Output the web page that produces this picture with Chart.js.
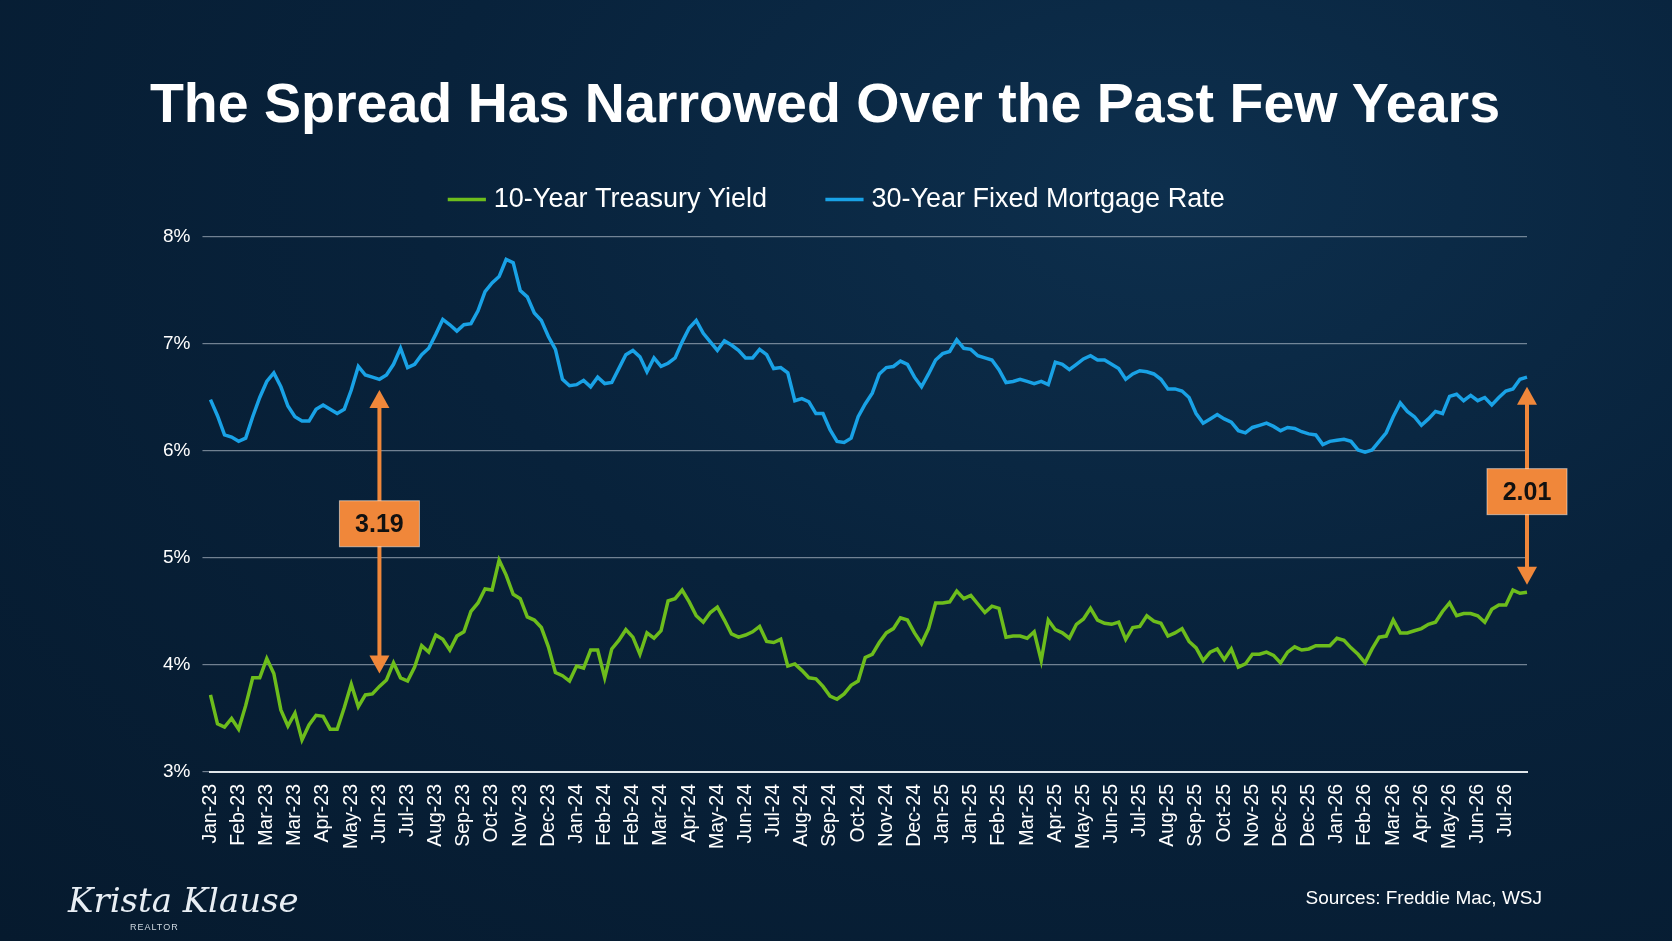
<!DOCTYPE html>
<html><head><meta charset="utf-8">
<script src="https://cdn.jsdelivr.net/npm/chart.js@4"></script>
<style>
html,body{margin:0;padding:0;width:1672px;height:941px;overflow:hidden;background:radial-gradient(ellipse at 70% 20%,#0d2f4d 0%,#08223b 45%,#061a2e 100%);font-family:"Liberation Sans",Arial,sans-serif}
#wrap{position:absolute;left:0;top:0;width:1672px;height:941px}
#title{position:absolute;left:0;width:1650px;top:70px;text-align:center;color:#fff;font-weight:bold;font-size:55.5px;line-height:67px}
#src{position:absolute;right:130px;top:887px;color:#fff;font-size:19px}
#logo{position:absolute;left:68px;top:880px;color:#e8eef4;font-family:"DejaVu Serif",serif;font-style:italic;font-size:34px}
#realtor{position:absolute;left:130px;top:922px;color:#cfd8e0;font-size:9px;letter-spacing:1px}
</style></head><body>
<div id="wrap"><canvas id="c" width="1672" height="941"></canvas></div>
<div id="title">The Spread Has Narrowed Over the Past Few Years</div>
<div id="logo">Krista Klause</div><div id="realtor">REALTOR</div>
<div id="src">Sources: Freddie Mac, WSJ</div>
<script>
const tickLabels=["Jan-23","Feb-23","Mar-23","Mar-23","Apr-23","May-23","Jun-23","Jul-23","Aug-23","Sep-23","Oct-23","Nov-23","Dec-23",
"Jan-24","Feb-24","Feb-24","Mar-24","Apr-24","May-24","Jun-24","Jul-24","Aug-24","Sep-24","Oct-24","Nov-24","Dec-24",
"Jan-25","Jan-25","Feb-25","Mar-25","Apr-25","May-25","Jun-25","Jul-25","Aug-25","Sep-25","Oct-25","Nov-25","Dec-25","Dec-25",
"Jan-26","Feb-26","Mar-26","Apr-26","May-26","Jun-26","Jul-26"];
const mortgage=[6.48,6.33,6.15,6.13, 6.09,6.12,6.32,6.50, 6.65,6.73,6.60,6.42, 6.32,6.28,6.28,6.39, 6.43,6.39,6.35,6.39, 6.57,6.79,6.71,6.69,
6.67,6.71,6.81,6.96, 6.78,6.81,6.90,6.96, 7.09,7.23,7.18,7.12, 7.18,7.19,7.31,7.49, 7.57,7.63,7.79,7.76, 7.50,7.44,7.29,7.22, 7.07,6.95,6.67,6.61,
6.62,6.66,6.60,6.69, 6.63,6.64,6.77,6.90, 6.94,6.88,6.74,6.87, 6.79,6.82,6.87,7.02, 7.15,7.22,7.10,7.02, 6.94,7.03,6.99,6.94, 6.87,6.87,6.95,6.90,
6.77,6.78,6.73,6.47, 6.49,6.46,6.35,6.35, 6.20,6.09,6.08,6.12, 6.32,6.44,6.54,6.72, 6.78,6.79,6.84,6.81, 6.69,6.60,6.72,6.85,
6.91,6.93,7.04,6.96, 6.95,6.89,6.87,6.85, 6.76,6.64,6.65,6.67, 6.65,6.63,6.65,6.62, 6.83,6.81,6.76,6.81, 6.86,6.89,6.85,6.85,
6.81,6.77,6.67,6.72, 6.75,6.74,6.72,6.67, 6.58,6.58,6.56,6.50, 6.35,6.26,6.30,6.34, 6.30,6.27,6.19,6.17, 6.22,6.24,6.26,6.23,
6.19,6.22,6.21,6.18, 6.16,6.15,6.06,6.09, 6.10,6.11,6.09,6.01, 5.99,6.01,6.09,6.17, 6.32,6.45,6.37,6.32, 6.24,6.30,6.37,6.35,
6.51,6.53,6.47,6.52, 6.47,6.50,6.43,6.50, 6.56,6.58,6.67,6.69];
const treasury=[3.72,3.45,3.42,3.50, 3.40,3.62,3.88,3.88, 4.06,3.92,3.58,3.43, 3.55,3.30,3.44,3.53, 3.52,3.40,3.40,3.60, 3.82,3.61,3.72,3.73,
3.80,3.86,4.02,3.88, 3.85,3.98,4.18,4.12, 4.28,4.24,4.14,4.27, 4.31,4.50,4.58,4.71, 4.70,4.98,4.84,4.66, 4.62,4.45,4.42,4.35, 4.17,3.93,3.90,3.85,
3.99,3.97,4.14,4.14, 3.88,4.15,4.23,4.33, 4.26,4.10,4.30,4.25, 4.32,4.60,4.62,4.70, 4.59,4.46,4.40,4.49, 4.54,4.42,4.29,4.26, 4.28,4.31,4.36,4.22,
4.21,4.24,3.99,4.01, 3.95,3.88,3.87,3.80, 3.71,3.68,3.73,3.81, 3.85,4.07,4.10,4.21, 4.30,4.34,4.44,4.42, 4.30,4.20,4.34,4.58,
4.58,4.59,4.69,4.62, 4.65,4.57,4.49,4.55, 4.53,4.26,4.27,4.27, 4.25,4.31,4.04,4.42, 4.33,4.30,4.25,4.38, 4.43,4.53,4.42,4.39,
4.38,4.40,4.24,4.35, 4.36,4.46,4.41,4.39, 4.27,4.30,4.34,4.22, 4.16,4.04,4.12,4.15, 4.05,4.15,3.98,4.01, 4.10,4.10,4.12,4.09,
4.02,4.12,4.17,4.14, 4.15,4.18,4.18,4.18, 4.25,4.23,4.16,4.10, 4.02,4.15,4.26,4.27, 4.42,4.30,4.30,4.32, 4.34,4.38,4.40,4.50,
4.58,4.46,4.48,4.48, 4.46,4.40,4.52,4.56, 4.56,4.70,4.67,4.68];
const spreads=[{i:24,top:6.57,bot:3.92,box:5.32,text:"3.19"},{i:187,top:6.6,bot:4.75,box:5.62,text:"2.01"}];
const labels=mortgage.map((_,i)=>i%4===0?tickLabels[i/4]:"");

const legendGap={id:'legendGap',beforeInit(ch){const l=ch.legend;if(!l)return;const f=l.fit;l.fit=function(){f.call(this);this.height+=14;};}};
const spreadPlugin={id:'spread',afterDatasetsDraw(ch){
  const ctx=ch.ctx,x=ch.scales.x,y=ch.scales.y;const col='#f0873a';
  spreads.forEach(s=>{
    const px=x.getPixelForValue(s.i),yt=y.getPixelForValue(s.top),yb=y.getPixelForValue(s.bot),yc=y.getPixelForValue(s.box);
    ctx.save();ctx.strokeStyle=col;ctx.fillStyle=col;ctx.lineWidth=4;
    ctx.beginPath();ctx.moveTo(px,yt+14);ctx.lineTo(px,yb-14);ctx.stroke();
    ctx.beginPath();ctx.moveTo(px,yt);ctx.lineTo(px-10,yt+18);ctx.lineTo(px+10,yt+18);ctx.closePath();ctx.fill();
    ctx.beginPath();ctx.moveTo(px,yb);ctx.lineTo(px-10,yb-18);ctx.lineTo(px+10,yb-18);ctx.closePath();ctx.fill();
    const w=80,h=46;ctx.fillRect(px-w/2,yc-h/2,w,h);
    ctx.strokeStyle='rgba(255,255,255,0.5)';ctx.lineWidth=1;ctx.strokeRect(px-w/2,yc-h/2,w,h);
    ctx.fillStyle='#111';ctx.font='bold 25px "Liberation Sans",Arial';ctx.textAlign='center';ctx.textBaseline='middle';
    ctx.fillText(s.text,px,yc+1);ctx.restore();
  });
}};

new Chart(document.getElementById('c'),{type:'line',
 data:{labels,datasets:[
  {label:'10-Year Treasury Yield',data:treasury,borderColor:'#6dbd1c',backgroundColor:'#6dbd1c',borderWidth:3.5,pointRadius:0,tension:0},
  {label:'30-Year Fixed Mortgage Rate',data:mortgage,borderColor:'#19a2e6',backgroundColor:'#19a2e6',borderWidth:3.5,pointRadius:0,tension:0}]},
 options:{responsive:false,animation:false,
  layout:{padding:{left:151,right:145,top:122,bottom:88}},
  plugins:{
   title:{display:false},
   legend:{labels:{color:'#fff',font:{family:'"Liberation Sans",Arial',size:27},usePointStyle:true,pointStyle:'line',boxWidth:40,padding:64}},
   tooltip:{enabled:false}},
  scales:{
   x:{grid:{display:false},border:{color:'#e0e6ea',width:2},
      ticks:{autoSkip:false,maxRotation:90,minRotation:90,color:'#fff',font:{family:'"Liberation Sans",Arial',size:19.5},padding:4,
        callback(v){return labels[v];}}},
   y:{min:3,max:8,ticks:{stepSize:1,color:'#fff',font:{family:'"Liberation Sans",Arial',size:19},padding:12,callback:v=>v+'%'},
      grid:{color:'rgba(200,210,220,0.55)',lineWidth:1.2},border:{display:false}}}},
 plugins:[legendGap,spreadPlugin]});
</script></body></html>
